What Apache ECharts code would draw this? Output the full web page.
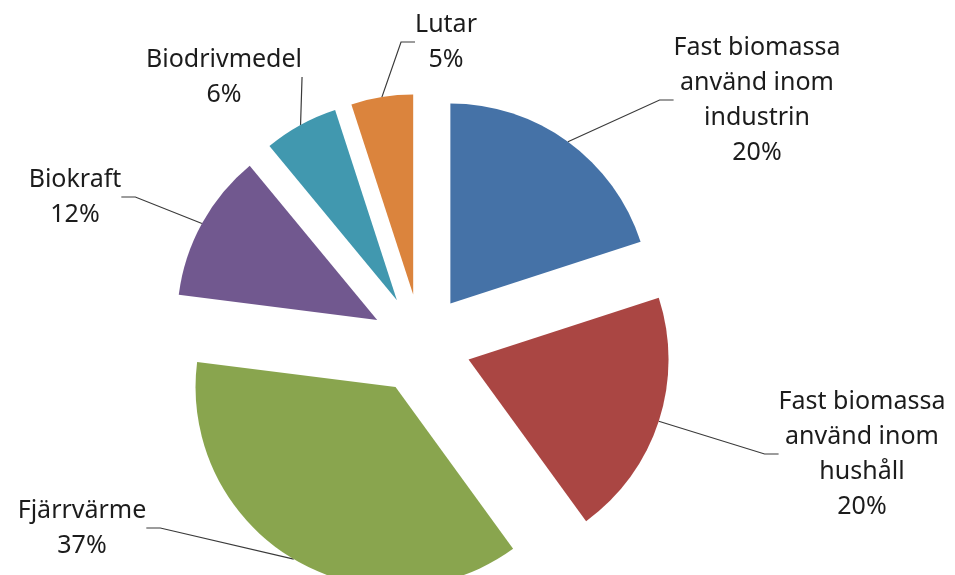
<!DOCTYPE html>
<html>
<head>
<meta charset="utf-8">
<script src="https://cdn.jsdelivr.net/npm/echarts@6/dist/echarts.min.js"></script>
<style>
  html, body { margin: 0; padding: 0; background: #fff; }
  #chart { width: 955px; height: 575px; }
</style>
</head>
<body>
<div id="chart"></div>
<script>
// data
const names = [
  'Fast biomassa\nanvänd inom\nindustrin',
  'Fast biomassa\nanvänd inom\nhushåll',
  'Fjärrvärme',
  'Biokraft',
  'Biodrivmedel',
  'Lutar'
]
const values = [20, 20, 37, 12, 6, 5]

const colors = ['#4572A7', '#AA4643', '#89A54E', '#71588F', '#4198AF', '#DB843D']
// label centres (px)
const labelPos = [[757, 100], [862, 454], [82, 528], [75, 197], [224, 77], [446, 42]]

const pieCenter = [421, 344]
const pieRadius = 200
const explode = 50

const chart = echarts.init(document.getElementById('chart'))

// every slice is pulled out along its own mid angle, so each one gets its own pie
const total = values.reduce((a, b) => a + b, 0)
let acc = 0
const series = values.map((v, i) => {
  const mid = (acc + v / 2) / total * Math.PI * 2
  acc += v
  return {
    type: 'pie',
    center: [pieCenter[0] + explode * Math.sin(mid), pieCenter[1] - explode * Math.cos(mid)],
    radius: pieRadius,
    startAngle: 90,
    clockwise: true,
    avoidLabelOverlap: false,
    silent: true,
    itemStyle: { borderWidth: 0 },
    emphasis: { disabled: true },
    data: names.map((n, j) => j === i
      ? {
          name: n,
          value: values[j],
          itemStyle: { color: colors[j] }
        }
      : {
          name: n,
          value: values[j],
          itemStyle: { color: 'rgba(0,0,0,0)' },
          label: { show: false },
          labelLine: { show: false }
        }),
    label: {
      show: true,
      position: 'outside',
      formatter: (p) => p.name + '\n' + p.value + '%',
      fontFamily: 'Noto Sans',
      fontSize: 25,
      lineHeight: 35,
      color: '#1c1c1c',
      align: 'center'
    },
    labelLine: {
      show: true,
      length: 20,
      length2: 14,
      lineStyle: { color: '#3a3a3a', width: 1.2 }
    },
    labelLayout: (params) => ({
      x: labelPos[params.dataIndex][0],
      y: labelPos[params.dataIndex][1],
      align: 'center',
      verticalAlign: 'middle'
    })
  }
})

chart.setOption({
  animation: false,
  series: series
})

window.addEventListener('resize', () => chart.resize())
</script>
</body>
</html>
